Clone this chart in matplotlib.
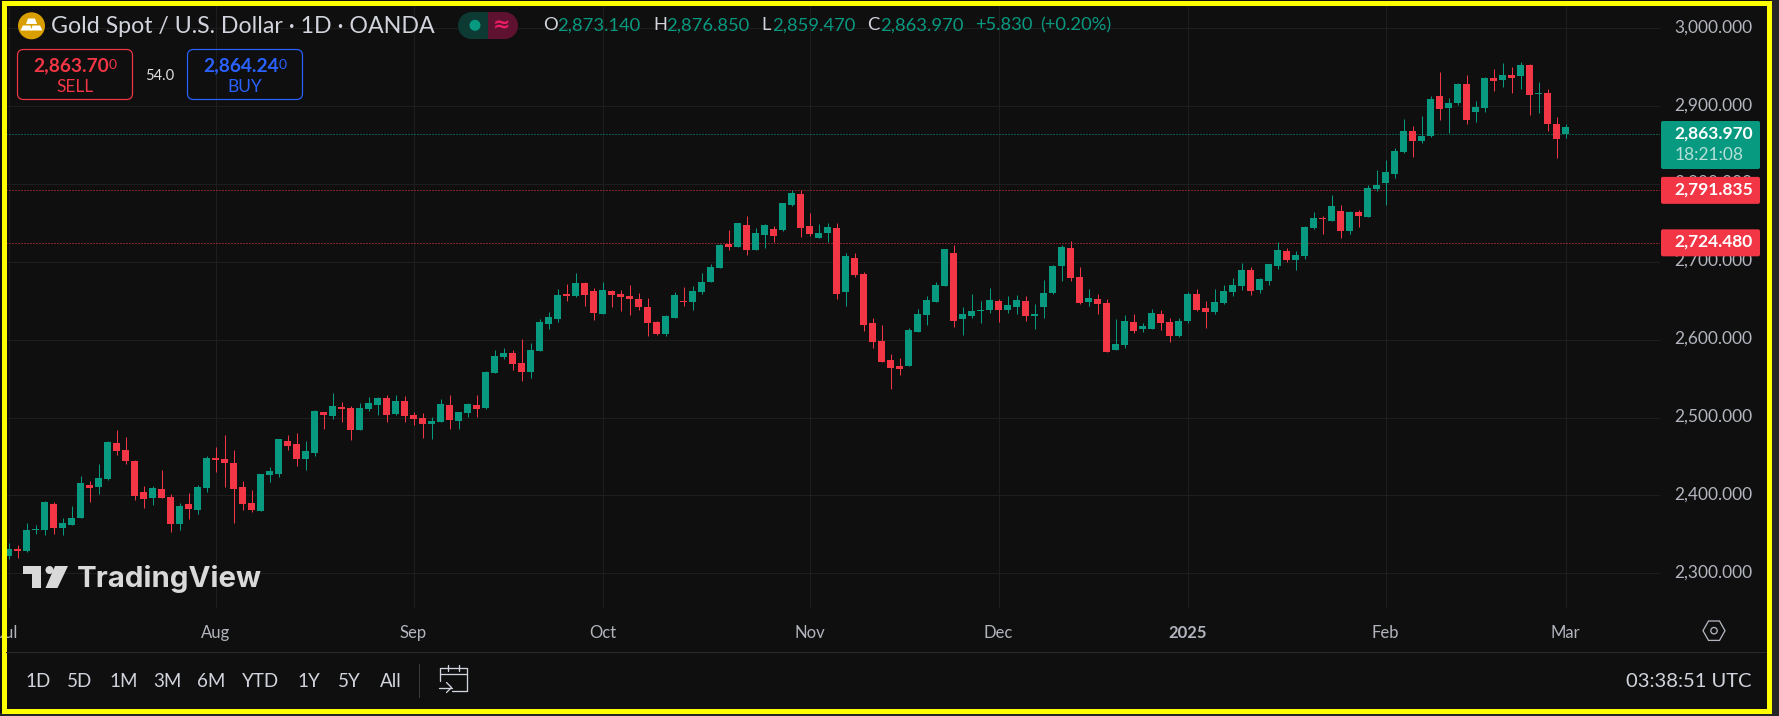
import matplotlib
matplotlib.use('Agg')
import matplotlib.pyplot as plt
from matplotlib.patches import Rectangle, FancyBboxPatch, Circle, Polygon
from matplotlib.transforms import ScaledTranslation

W, H = 1779, 716
PX = 0.72  # one pixel in points at dpi 100

# daily candles, 1 Jul 2024 onward
highs = [2338.5,2336.3,2364.1,2362,2392.8,2391.5,2371,2386.3,2424.8,2418.4,
2440.2,2469.7,2483.8,2474.8,2445.3,2412,2412,2432.5,2401.7,2390.2,
2403,2413.3,2450.5,2462,2477.4,2458.1,2418.4,2406.9,2427.4,2436.3,
2473.1,2477.4,2479.9,2469.7,2509.4,2506.9,2531.2,2519.7,2514.6,2518.4,
2526.1,2526.1,2528.7,2528.7,2527.4,2506.9,2505.6,2500.5,2523.5,2528.7,
2506.9,2518.4,2528.7,2559.9,2586.9,2589.5,2586.9,2601,2595.9,2626.7,
2635.7,2665.2,2671.6,2685.8,2674.2,2666.5,2674.2,2663.9,2663.9,2670.4,
2660.1,2653.7,2624.1,2631.8,2661.4,2667.8,2669.1,2685.8,2697.3,2723,
2740.9,2749.9,2758.9,2743.5,2748.6,2746.1,2775.6,2792.3,2792.3,2762.8,
2748.6,2749.9,2749.9,2711.4,2711.4,2687,2627.9,2618.9,2581.7,2576.5,
2615.1,2639.5,2656.2,2674.2,2716.5,2721.7,2642,2658.7,2649.8,2666.5,
2652.3,2656.2,2657.5,2656.2,2645.9,2676.7,2696,2721.7,2726.8,2693.4,
2665.2,2658.7,2652.3,2626.6,2631.8,2633,2621.5,2639.5,2638.2,2627.9,
2627.9,2661.3,2665.1,2649.7,2665.1,2670.3,2679.3,2698.5,2693.4,2679.3,
2697.3,2725.5,2717.8,2714,2746.1,2764,2758.9,2785.9,2773,2765.3,
2766.6,2798.7,2818,2830.8,2846.2,2883.5,2874.5,2887.3,2913,2943.8,
2910.5,2929.7,2940,2906.6,2937.4,2947.7,2955.4,2950.3,2956.7,2954.1,
2931,2922,2886.1,2876.85]

body_tops = [2331.2,2331.2,2355.6,2356.9,2391.5,2388.9,2364.5,2371,2415.8,2413.3,
2422.2,2468.4,2467.1,2458.1,2444,2404.3,2409.4,2408.1,2397.9,2386.3,
2388.9,2410.7,2447.9,2447.9,2446.6,2441.5,2410.7,2390.2,2427.4,2431.2,
2472.3,2469.7,2465.8,2456.9,2508.2,2506.9,2514.6,2513.3,2512,2512,
2518.4,2524.8,2524.8,2521,2521,2503,2499.2,2495.3,2517.1,2515.8,
2506.9,2517.1,2515.8,2558.6,2579.2,2583,2583,2570.2,2586.9,2622.8,
2629.3,2657.5,2658.8,2672.9,2672.9,2662.7,2663.9,2662.7,2658.8,2656.2,
2652.4,2642.1,2622.8,2630.5,2657.5,2649.8,2662.7,2674.2,2693.5,2721.7,
2723,2749.9,2747.4,2737.1,2747.4,2742.2,2775.6,2788.5,2787.2,2746.1,
2737.1,2744.8,2743.5,2707.5,2705,2684.4,2621.5,2598.4,2574,2566.3,
2612.5,2633.1,2651,2670.3,2716.5,2711.4,2633.1,2636.9,2638.2,2651,
2649.8,2644.6,2651,2649.8,2633.1,2660,2694.7,2719.1,2717.8,2680.6,
2653.6,2652.3,2647.2,2594.5,2624.1,2622.8,2617.6,2634.3,2633,2622.8,
2624.1,2658.7,2658.7,2640.8,2648.5,2662.6,2670.3,2689.6,2689.6,2678,
2697.3,2715.2,2714,2708.8,2744.8,2756.3,2756.3,2771.7,2765.3,2764,
2764,2794.9,2798.7,2815.4,2842.4,2868.1,2868.1,2861.6,2909.2,2913,
2904,2928.4,2928.4,2898.9,2936.1,2936.1,2940,2940,2952.8,2952.8,
2916.9,2916.9,2877.1,2873.14]

body_bottoms = [2322.2,2328.6,2328.6,2356,2355.6,2358.1,2358.1,2362,2371,2409.4,
2410.7,2421,2456.9,2444,2399.2,2395.3,2396.6,2396.6,2363.3,2363.3,
2382.5,2381.2,2409.4,2445.3,2441.5,2408.1,2388.9,2381.2,2379.9,2426.1,
2427.4,2463.3,2446.6,2446.6,2454.3,2503,2501.7,2510.7,2483.8,2483.8,
2510.7,2515.8,2503,2504.3,2501.7,2497.9,2491.5,2491.5,2494,2496.6,
2495.3,2505.6,2510.7,2512.4,2557.3,2577.9,2568.9,2558.6,2558.6,2585.6,
2620.3,2626.7,2656.2,2656.2,2657.5,2634.4,2633.1,2657.5,2655,2652.4,
2642.1,2621.6,2607.4,2607.4,2628,2648.5,2648.5,2661.4,2674.2,2692.2,
2719.1,2719.1,2715.3,2715.3,2734.5,2733.2,2740.9,2773,2743.5,2735.8,
2730.7,2737.1,2658.7,2661.3,2683.1,2618.9,2597.1,2571.4,2563.7,2562.4,
2566.3,2609.9,2631.8,2648.5,2669,2624.1,2626.6,2630.5,2636.9,2638.2,
2638.2,2638.2,2642,2630.5,2630.5,2642,2660,2694.7,2679.3,2647.2,
2648.5,2645.9,2584.2,2586.8,2593.2,2611.2,2613.8,2613.8,2621.5,2604.8,
2604.8,2624.1,2638.2,2635.6,2635.6,2647.2,2661.3,2669,2662.6,2663.9,
2675.4,2694.7,2702.4,2702.4,2707.5,2743.5,2755.1,2752.5,2739.6,2739.6,
2758.9,2757.6,2793.6,2801.3,2812.8,2841.1,2855.2,2855.2,2861.6,2896.3,
2897.6,2904,2882.2,2892.5,2897.6,2932.3,2933.6,2936.1,2938.7,2914.3,
2915.6,2877.1,2857.8,2863.97]

lows = [2318.8,2320.1,2327.4,2350.4,2349.2,2350.4,2349.2,2362,2371,2391.5,
2401.7,2419.7,2451.7,2440.2,2394,2383.8,2387.6,2396.6,2353,2355.6,
2369.7,2376.1,2404.3,2429.9,2410.7,2364.5,2381.2,2378.6,2379.9,2417.1,
2423.5,2458.1,2437.6,2432.5,2450.5,2485.1,2497.9,2494,2471,2483.8,
2508.2,2503,2494,2503,2494,2490.2,2473.5,2472.3,2494,2485.1,
2485.1,2500.5,2500.5,2511.1,2557.3,2575.3,2561.2,2547.1,2550.9,2585.6,
2613.9,2622.8,2649.8,2655,2643.4,2625.4,2633.1,2642.1,2637,2631.8,
2638.3,2604.9,2606.1,2604.9,2628,2643.4,2638.3,2658.8,2674.2,2692.2,
2715.3,2719.1,2708.8,2715.3,2717.8,2725.5,2739.7,2771.8,2732,2733.2,
2730.7,2725.5,2652.3,2643.3,2680.6,2611.2,2589.4,2571.4,2536.7,2554.7,
2566.3,2609.9,2618.9,2648.5,2669,2616.4,2606.1,2627.9,2621.5,2634.3,
2622.8,2634.3,2633.1,2624.1,2613.8,2627.9,2658.7,2675.4,2675.4,2645.9,
2643.3,2633.1,2584.2,2586.8,2589.4,2608.6,2609.9,2613.8,2612.5,2597.1,
2603.5,2621.5,2636.9,2615.1,2633,2645.9,2656.2,2663.9,2657.4,2660,
2670.3,2690.8,2699.8,2689.6,2703.7,2742.2,2735.8,2752.5,2730.6,2735.8,
2744.8,2757.6,2791,2773,2807.7,2839.8,2834.7,2852.7,2860.4,2882.2,
2865.5,2901.5,2877.1,2879.6,2892.5,2919.4,2924.6,2916.9,2922,2888.6,
2891.2,2868.1,2833.4,2859.47]

# g = up day, r = down day
directions = ('grgggrgggr' 'ggrrrrgrrg' 'rggrrrrrgg' 'grrggrgrrg' 'ggrgrrrggr'
              'ggrgggrrgg' 'ggrgrrgrrr' 'rrrggrgggg' 'rgrggrggrr' 'ggrgrrrrrr'
              'gggggrgggg' 'rggrggggrr' 'grrggrggrr' 'ggrrggggrg' 'ggrgggrgrg'
              'rgggggrggr' 'ggrggrgrgr' 'grrg')

month_bars = [0, 23, 45, 66, 89, 110, 131, 153, 173]
month_labels = ['Jul', 'Aug', 'Sep', 'Oct', 'Nov', 'Dec', '2025', 'Feb', 'Mar']
price_ticks = [2300, 2400, 2500, 2600, 2700, 2800, 2900, 3000]
last_price = 2863.97
red_levels = [2791.835, 2724.48]

BG = '#0f0f0f'
GREEN = '#089981'
RED = '#f23645'
BLUE = '#2962ff'
GRID = '#1e1e1e'
TEXT = '#d1d4dc'
AXIS_TEXT = '#b2b5be'
FONT = 'Lato'

plt.rcParams['font.family'] = FONT

fig = plt.figure(figsize=(W / 100, H / 100), dpi=100, facecolor=BG)

# price pane
left, right, top, bottom = 6, 1660, 5, 608
ax = fig.add_axes([left / W, 1 - bottom / H, (right - left) / W, (bottom - top) / H])
ax.set_facecolor(BG)
for s in ax.spines.values():
    s.set_visible(False)
ax.set_xlim((left - 8.5) / 9, (right - 8.5) / 9)
ax.set_ylim(3000 - (bottom - 28.3) / 0.7786, 3000 + (28.3 - top) / 0.7786)

ax.set_axisbelow(True)
ax.grid(True, color=GRID, linewidth=PX)
ax.yaxis.tick_right()
ax.set_yticks(price_ticks)
ax.set_yticklabels(['{:,.3f}'.format(p) for p in price_ticks], color=AXIS_TEXT, fontsize=12.5)
ax.set_xticks(month_bars)
ax.set_xticklabels(month_labels, color=AXIS_TEXT, fontsize=12)
ax.get_xticklabels()[6].set_fontweight('bold')
ax.tick_params(axis='both', length=0)
ax.tick_params(axis='y', pad=10)
ax.tick_params(axis='x', pad=12.5)
# labels sit a little above their gridlines
nudge = ScaledTranslation(0, 2.5 / 100, fig.dpi_scale_trans)
for t in ax.get_yticklabels():
    t.set_transform(t.get_transform() + nudge)

last_line = ax.axhline(last_price, color=GREEN, linewidth=PX, linestyle=(0, (1, 2)), zorder=1)
last_line.set_snap(True)
for level in red_levels:
    level_line = ax.axhline(level, color=RED, linewidth=PX, linestyle=(0, (1, 2)), zorder=1)
    level_line.set_snap(True)

bars = list(range(len(highs)))
colors = [GREEN if d == 'g' else RED for d in directions]
ax.vlines(bars, lows, highs, colors=colors, linewidth=PX, zorder=2)
ax.bar(bars, [t - b for t, b in zip(body_tops, body_bottoms)], bottom=body_bottoms,
       width=7 / 9, color=colors, linewidth=0, zorder=3)

# overlay in pixel space for the terminal chrome
ui = fig.add_axes([0, 0, 1, 1])
ui.set_xlim(0, W)
ui.set_ylim(H, 0)
ui.axis('off')
ui.patch.set_visible(False)


def price_y(p):
    return ui.transData.inverted().transform(ax.transData.transform((0, p)))[1]


def label(x, y, s, color=TEXT, size=12, ha='left', weight='normal', **kw):
    return ui.text(x, y, s, color=color, fontsize=size, ha=ha, va='center', fontweight=weight, **kw)


# gold icon and title
ui.add_patch(Circle((31.5, 25.8), 13.5, color='#d99f00', linewidth=0))
ui.add_patch(Polygon([(28, 18.5), (35, 18.5), (37, 24), (26, 24)], color='white', linewidth=0))
ui.add_patch(Polygon([(23, 25.5), (30.5, 25.5), (32, 30.5), (20.5, 30.5)], color='white', linewidth=0))
ui.add_patch(Polygon([(32.5, 25.5), (40, 25.5), (42.5, 30.5), (31, 30.5)], color='white', linewidth=0))
label(51, 26.5, 'Gold Spot / U.S. Dollar · 1D · OANDA', size=16.7)

# market status pill
ui.add_patch(Circle((471.5, 25.6), 13.5, color='#0d3a33', linewidth=0))
ui.add_patch(Rectangle((471.5, 12.1), 16.5, 27, color='#0d3a33', linewidth=0))
ui.add_patch(Circle((504.5, 25.6), 13.5, color='#5e1230', linewidth=0))
ui.add_patch(Rectangle((488, 12.1), 16.5, 27, color='#5e1230', linewidth=0))
ui.add_patch(Circle((475, 25.3), 5.5, color=GREEN, linewidth=0))
label(502, 25, '≈', color='#e91e63', size=15, ha='center', family='DejaVu Sans', weight='bold')

# OHLC readout
for x, s, c in [(543, 'O', TEXT), (557, '2,873.140', GREEN), (653, 'H', TEXT), (666, '2,876.850', GREEN),
                (761, 'L', TEXT), (772.5, '2,859.470', GREEN), (867, 'C', TEXT), (880.5, '2,863.970', GREEN),
                (975.5, '+5.830', GREEN), (1040, '(+0.20%)', GREEN)]:
    label(x, 25.5, s, color=c, size=13.2)

# sell and buy buttons
for x0, c, price, side in [(17.5, RED, '2,863.70', 'SELL'), (187.5, BLUE, '2,864.24', 'BUY')]:
    ui.add_patch(FancyBboxPatch((x0, 49.5), 115, 50, boxstyle='round,pad=0,rounding_size=6',
                                facecolor='none', edgecolor=c, linewidth=PX * 1.2))
    label(x0 + 91, 66, price, color=c, size=13.8, ha='right', weight='bold')
    label(x0 + 91, 65, '0', color=c, size=10)
    label(x0 + 57.5, 87.5, side, color=c, size=12.5, ha='center')
label(160, 76, '54.0', size=10.5, ha='center', color='#e0e0e0')

# price axis tags
tag_y = price_y(last_price)
ui.add_patch(FancyBboxPatch((1661, 121), 99, 48, boxstyle='round,pad=0,rounding_size=2', color=GREEN, linewidth=0))
label(1753, tag_y - 1, '{:,.3f}'.format(last_price), color='white', size=12.5, ha='right', weight='bold')
label(1675, tag_y + 21, '18:21:08', color='#b5e0d8', size=12.5)
for level in red_levels:
    y = price_y(level)
    ui.add_patch(FancyBboxPatch((1661, y - 13.5), 99, 27, boxstyle='round,pad=0,rounding_size=2', color=RED, linewidth=0))
    label(1753, y - 1, '{:,.3f}'.format(level), color='white', size=12.5, ha='right', weight='bold')

# TradingView watermark
mark = '#d9d9d9'
ui.add_patch(Polygon([(23, 565.5), (41, 565.5), (41, 588), (32, 588), (32, 574), (23, 574)], color=mark, linewidth=0))
ui.add_patch(Circle((49.5, 570), 4, color=mark, linewidth=0))
ui.add_patch(Polygon([(55, 566), (68, 566), (57.5, 588), (45.5, 588)], color=mark, linewidth=0))
label(77, 579, 'TradingView', color=mark, size=21.2, weight='bold', family='Inter')

# bottom bar
ui.plot([6, 1766], [651.7, 651.7], color='#2a2a2a', linewidth=PX)
for x, s in zip([38.3, 80, 123.2, 167, 211, 260, 308.5, 349.4, 391],
                ['1D', '5D', '1M', '3M', '6M', 'YTD', '1Y', '5Y', 'All']):
    label(x, 681.5, s, ha='center', size=13.5)
ui.plot([419.4, 419.4], [664, 697], color='#3a3a3a', linewidth=PX)

# go-to-date icon
icon = dict(color=TEXT, linewidth=PX * 1.3, solid_capstyle='round')
ui.plot([440, 440, 467, 467, 452], [681, 668, 668, 691, 691], **icon)
ui.plot([440, 467], [674, 674], **icon)
ui.plot([448, 448], [665, 671], **icon)
ui.plot([459, 459], [665, 671], **icon)
ui.plot([439, 451.5], [687.5, 687.5], **icon)
ui.plot([446.5, 451.5, 446.5], [682.5, 687.5, 692.5], **icon)

label(1752, 681.5, '03:38:51 UTC', ha='right', size=14.5)

# auto-scale settings hexagon
ui.add_patch(Polygon([(1703, 630.7), (1708.5, 621), (1719.5, 621), (1725, 630.7), (1719.5, 640.4), (1708.5, 640.4)],
                     facecolor='none', edgecolor=AXIS_TEXT, linewidth=PX * 1.3))
ui.add_patch(Circle((1714, 630.7), 3.2, facecolor='none', edgecolor=AXIS_TEXT, linewidth=PX * 1.3))

# screenshot frame and outer margin
ui.add_patch(Rectangle((1771, 0), 8, H, color='#262626', linewidth=0))
ui.add_patch(Rectangle((0, 713), W, 3, color='#262626', linewidth=0))
ui.add_patch(Rectangle((3.5, 3), 1765, 707.5, facecolor='none', edgecolor='#ffff00', linewidth=5 * PX))

fig.savefig('out.png', dpi=100, facecolor=BG)
